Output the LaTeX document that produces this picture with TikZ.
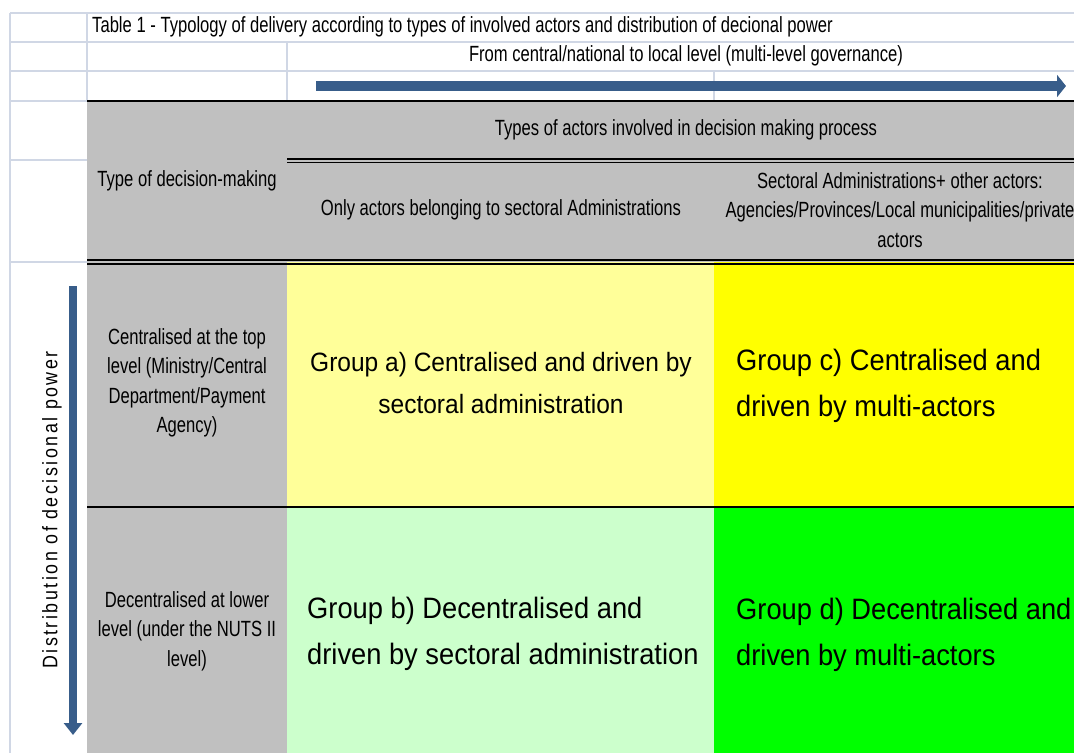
\documentclass[tikz,border=0pt]{standalone}
\usepackage{fontspec}
\setmainfont{Liberation Sans}[FakeStretch=0.755]
\newfontfamily\groupfont{Liberation Sans}[FakeStretch=0.925]
\newfontfamily\powerfont{Liberation Sans}[FakeStretch=0.85,LetterSpace=12]
\usetikzlibrary{arrows.meta,positioning}

\definecolor{gridclr}{RGB}{208,215,229}
\definecolor{headgray}{RGB}{192,192,192}
\definecolor{paleyellow}{RGB}{255,255,153}
\definecolor{vividyellow}{RGB}{255,255,0}
\definecolor{palegreen}{RGB}{204,255,204}
\definecolor{vividgreen}{RGB}{0,255,0}
\definecolor{arrowblue}{RGB}{56,93,138}

\tikzset{
  gridline/.style={draw=gridclr, line width=1.2pt},
  ruleline/.style={draw=black, line width=1.6pt},
  celltext/.style={font=\fontsize{22}{29.5}\selectfont, align=center, inner sep=0pt},
  grouptext/.style={font=\groupfont\fontsize{29.5}{46}\selectfont, inner sep=0pt},
  bluearrow/.style={draw=arrowblue, line width=#1}
}

\begin{document}
\begin{tikzpicture}[x=1pt,y=-1pt]
  \useasboundingbox (0,0) rectangle (1074,753);
  \clip (0,0) rectangle (1074,753);

  % grid of the sheet
  \foreach \y in {13,42,71}
  {
  \draw[gridline] (10,\y) -- (1074,\y);
  }
  \foreach \y in {101,160,262}
  {
  \draw[gridline] (10,\y) -- (87,\y);
  }
  \draw[gridline] (10,13) -- (10,753);
  \draw[gridline] (87,13) -- (87,101);
  \draw[gridline] (287,42) -- (287,101);
  \draw[gridline] (714,71) -- (714,101);

  % cell colours
  \fill[headgray] (87,101) rectangle (1074,262);
  \fill[headgray] (87,262) rectangle (287,753);
  \fill[paleyellow] (287,262) rectangle (714,507);
  \fill[vividyellow] (714,262) rectangle (1074,507);
  \fill[palegreen] (287,507) rectangle (714,753);
  \fill[vividgreen] (714,507) rectangle (1074,753);

  % borders
  \draw[draw=black, line width=2.2pt] (87,101) -- (1074,101);
  \draw[ruleline] (287,158.8) -- (1074,158.8);
  \draw[ruleline] (287,162.4) -- (1074,162.4);
  \draw[ruleline] (87,260) -- (1074,260);
  \draw[ruleline] (87,264) -- (1074,264);
  \draw[ruleline] (87,507) -- (1074,507);

  \node[celltext, anchor=west] (title) at (92,27) {Table 1 - Typology of delivery according to types of involved actors and distribution of decional power};
  \node[celltext] (govlabel) at (686,56) {From central/national to local level (multi-level governance)};
  \node[celltext] (actorshead) at (686,130) {Types of actors involved in decision making process};
  \node[celltext] (typehead) at (187,181) {Type of decision-making};
  \node[celltext] (onlysect) at (501,210) {Only actors belonging to sectoral Administrations};
  \node[celltext] (multiact) at (900,210) {Sectoral Administrations+ other actors:\\Agencies/Provinces/Local municipalities/private\\actors};
  \node[celltext] (topcent) at (187,383) {Centralised at the top\\level (Ministry/Central\\Department/Payment\\Agency)};
  \node[celltext] (lowdecent) at (187,631) {Decentralised at lower\\level (under the NUTS II\\level)};

  \node[grouptext, font=\groupfont\fontsize{26.5}{42}\selectfont, align=center] (groupa) at (501,383) {Group a) Centralised and driven by\\sectoral administration};
  \node[grouptext, align=left, anchor=west] (groupb) at (307,634) {Group b) Decentralised and\\driven by sectoral administration};
  \node[grouptext, align=left, anchor=west] (groupc) at (736,386) {Group c) Centralised and\\driven by multi-actors};
  \node[grouptext, align=left, anchor=west] (groupd) at (736,635) {Group d) Decentralised and\\driven by multi-actors};

  \node[celltext, font=\powerfont\fontsize{21}{25}\selectfont, rotate=90] (powerlabel) at (52,510) {Distribution of decisional power};

  % direction arrows
  \coordinate (govstart) at (316,86);
  \coordinate (govend) at (1066,86);
  \coordinate (powstart) at (73,286);
  \coordinate (powend) at (73,735);
  \draw[bluearrow=10pt, -{Triangle[width=22pt,length=9pt]}] (govstart) -- (govend);
  \draw[bluearrow=8pt, -{Triangle[width=18pt,length=12pt]}] (powstart) -- (powend);

\end{tikzpicture}
\end{document}
